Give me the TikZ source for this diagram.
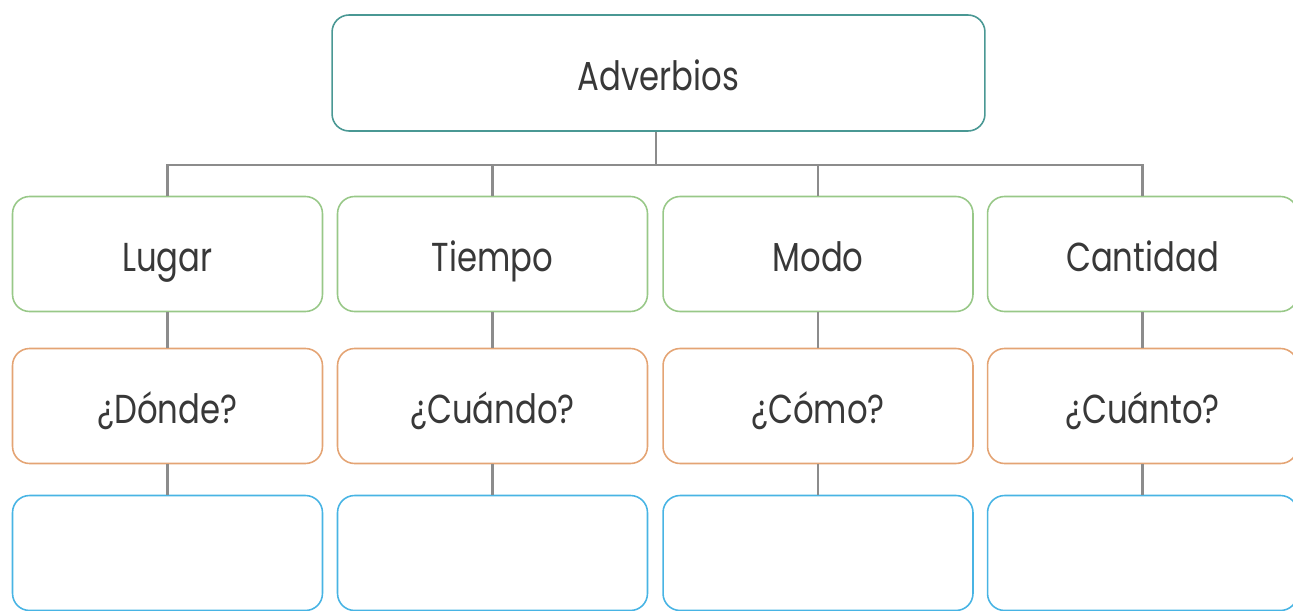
\documentclass[tikz,border=0pt]{standalone}
\usepackage{fontspec}
\setmainfont{Poppins}[FakeStretch=0.8]
\usepackage{xcolor}
\definecolor{verdeazul}{HTML}{4A9894}
\definecolor{verde}{HTML}{98C888}
\definecolor{naranja}{HTML}{E4A474}
\definecolor{azul}{HTML}{48B4E4}
\definecolor{gris}{HTML}{8C8C8C}

\begin{document}
\begin{tikzpicture}[x=0.02cm,y=-0.02cm,
	caja/.style={draw, rounded corners=0.34cm, minimum width=6.2cm, minimum height=2.3cm, line width=0.9pt, font=\fontsize{23}{27}\selectfont, text=black!78, text height=22pt, text depth=2pt},
	linea/.style={draw=gris, line width=1.2pt}]
	\useasboundingbox (0,0) rectangle (1293,611);
	\node[caja, draw=verdeazul, minimum width=13.06cm, minimum height=2.32cm] (adv) at (658.5,73) {Adverbios};
	\foreach \x/\n/\t/\p in {167.5/lugar/Lugar/¿Dónde?, 492.5/tiempo/Tiempo/¿Cuándo?, 818/modo/Modo/¿Cómo?, 1142.5/cant/Cantidad/¿Cuánto?}{
		\node[caja, draw=verde] (\n) at (\x,254) {\t};
		\node[caja, draw=naranja] (\n-p) at (\x,406) {\p};
		\node[caja, draw=azul] (\n-r) at (\x,553) {};
		\draw[linea] (\n) -- (\n-p);
		\draw[linea] (\n-p) -- (\n-r);
	}
	\coordinate (rama) at (656,165);
	\draw[linea] (adv.south -| rama) -- (rama);
	\draw[linea] (lugar.north) |- (rama) -| (cant.north);
	\draw[linea] (tiempo.north) -- (tiempo.north |- rama);
	\draw[linea] (modo.north) -- (modo.north |- rama);
\end{tikzpicture}
\end{document}
